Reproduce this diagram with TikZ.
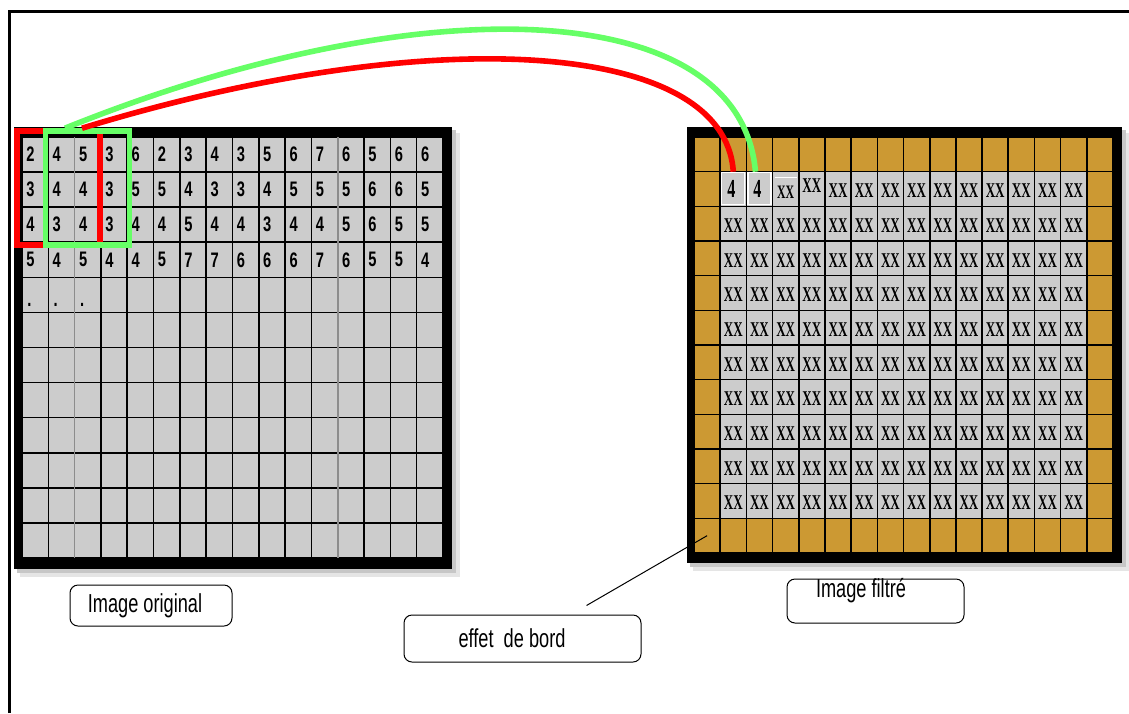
\documentclass[tikz,border=0pt]{standalone}
\usepackage{fontspec}
\setmainfont{Liberation Sans}
\newfontfamily\numfont[FakeStretch=0.7]{Liberation Sans}
\newfontfamily\xxfont[FakeStretch=0.62]{Liberation Serif}
\newfontfamily\tagfont[FakeStretch=0.7]{Liberation Sans}
\usetikzlibrary{calc}
\definecolor{cellgray}{RGB}{204,204,204}
\definecolor{bordgold}{RGB}{204,153,51}
\definecolor{linkred}{RGB}{255,0,0}
\definecolor{linkgreen}{RGB}{102,255,102}
\tikzset{cell/.style={draw=black,line width=0.8pt,fill=cellgray,inner sep=0pt,outer sep=0pt,minimum width=13.16pt,minimum height=17.54pt}}
\tikzset{fcell/.style={cell,minimum width=13.09pt,minimum height=17.33pt}}
\tikzset{num/.style={inner sep=0pt,anchor=west,font=\numfont\bfseries\fontsize{10.5}{12}\selectfont}}
\tikzset{xx/.style={inner sep=0pt,font=\xxfont\bfseries\fontsize{10.5}{12}\selectfont}}
\tikzset{win/.style={draw,line width=2.8pt,inner sep=0pt,minimum width=42pt,minimum height=57pt}}
\tikzset{link/.style={line width=2.8pt}}
\tikzset{tag/.style={draw,line width=0.5pt,rounded corners=4pt,inner sep=0pt,font=\tagfont\fontsize{13}{15}\selectfont}}

\begin{document}
\begin{tikzpicture}[x=0.5pt,y=-0.5pt]
\useasboundingbox (0,0) rectangle (1129,713);
\draw[line width=1.5pt] (9.5,713) -- (9.5,11.5) -- (1129,11.5);

% image original
\fill[black!10] (20,133) rectangle (460,577);
\fill[black!22] (17,130) rectangle (456,573);
\fill (14,127) rectangle (452,569);
\foreach \r in {1,...,12}
  \foreach \c in {1,...,16}
    \node[cell] (a-\r-\c) at ({22+(\c-0.5)*26.3125},{137+(\r-0.5)*35.083}) {};
\draw[black!45,line width=0.8pt] (a-1-3.north west) -- (a-12-3.south west)
  (a-1-13.north west) -- (a-12-13.south west);
\foreach \r/\vals in {1/{2,4,5,3,6,2,3,4,3,5,6,7,6,5,6,6},
                      2/{3,4,4,3,5,5,4,3,3,4,5,5,5,6,6,5},
                      3/{4,3,4,3,4,4,5,4,4,3,4,4,5,6,5,5},
                      4/{5,4,5,4,4,5,7,7,6,6,6,7,6,5,5,4}}
  \foreach \v [count=\c] in \vals
    \node[num] at ([xshift=2pt]a-\r-\c.west) {\v};
\foreach \c in {1,2,3}
  \node[num,anchor=base west] at ({22+(\c-1)*26.3125+5},306) {.};

\node[win,draw=linkred,minimum width=41.5pt] (rwin) at (58.5,188) {};
\node[win,draw=linkgreen] (gwin) at (87.5,188) {};

% image filtre
\fill[black!10] (693,133) rectangle (1129,571);
\fill[black!22] (690,130) rectangle (1126,567);
\fill (687,127) rectangle (1122,563);
\foreach \r in {1,...,12}
  \foreach \c in {1,...,16}{
    \pgfmathtruncatemacro{\edge}{(\r==1)||(\r==12)||(\c==1)||(\c==16)}
    \ifnum\edge=1 \def\cc{bordgold}\else\def\cc{cellgray}\fi
    \node[fcell,fill=\cc] (f-\r-\c) at ({694+(\c-0.5)*26.1875},{137+(\r-0.5)*34.667}) {};
  }
\foreach \r in {3,...,11}
  \foreach \c in {2,...,15}
    \node[xx] at ([yshift=-1pt]f-\r-\c) {XX};
\foreach \c in {6,...,15}
  \node[xx] at ([yshift=-1pt]f-2-\c) {XX};
\node[xx,font=\xxfont\bfseries\fontsize{9.5}{11}\selectfont] at ([yshift=-1.5pt]f-2-4) {XX};
\node[xx] at ([yshift=1.5pt]f-2-5) {XX};
\draw[white,line width=0.6pt] ([shift={(1pt,-3pt)}]f-2-4.north west) -- ([shift={(-1pt,-3pt)}]f-2-4.north east);
\foreach \c in {2,3}{
  \draw[white,line width=0.6pt] ([shift={(0.8pt,-0.5pt)}]f-2-\c.north west) rectangle ([shift={(-0.8pt,0.8pt)}]f-2-\c.south east);
  \node[xx,font=\xxfont\bfseries\fontsize{13}{15}\selectfont] at ([xshift=-1pt]f-2-\c) {4};
}

\draw[link,linkred] ([xshift=11.75pt]rwin.north) .. controls (432,21) and (725,40) .. (f-2-2.north);
\draw[link,linkgreen] ([xshift=-11.25pt]gwin.north) .. controls (420,-15) and (740,-5) .. ([xshift=-2pt]f-2-3.north);

\node[tag,minimum width=81pt,minimum height=20.5pt] (torig) at (151,605.5) {Image original\hspace*{6pt}};
\node[tag,minimum width=118.5pt,minimum height=23.5pt] (tbord) at (522.5,638.5) {effet\ \ de bord\hspace*{10.5pt}};
\node[tag,minimum width=88.5pt,minimum height=22pt] (tfilt) at (875.5,601) {};
\node[inner sep=0pt,font=\tagfont\fontsize{13}{15}\selectfont] (tfilttxt) at (861,591) {Image filtré};
\draw[line width=0.5pt] ([xshift=32pt,yshift=4.5pt]tbord.north) -- (f-12-1.center);
\end{tikzpicture}
\end{document}
